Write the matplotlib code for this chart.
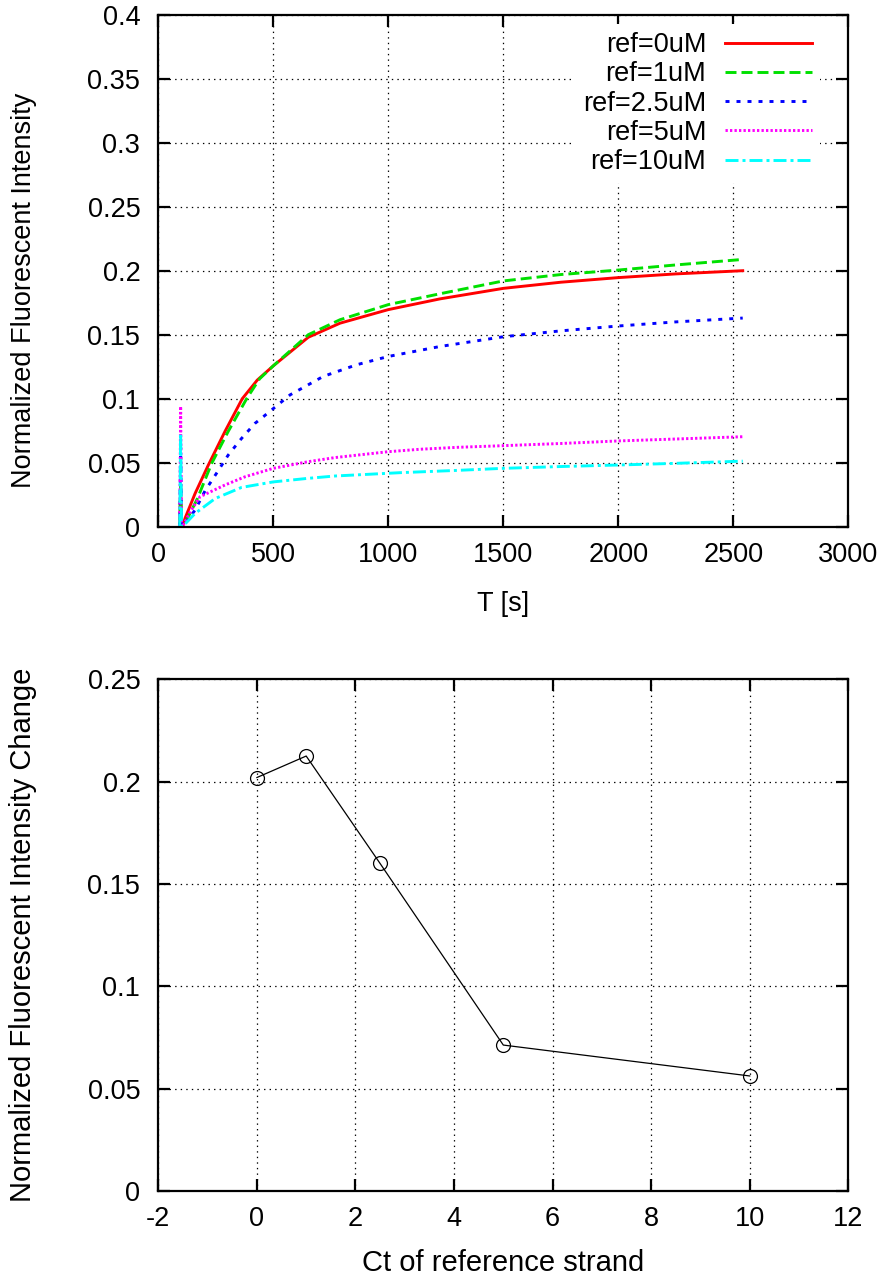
import matplotlib
matplotlib.use("Agg")
import matplotlib.pyplot as plt

plt.rcParams['font.family'] = ['Liberation Sans', 'DejaVu Sans']
plt.rcParams['lines.scale_dashes'] = False

# time traces (T in s, normalized intensity)
t_ref0 = [93, 97, 101, 105, 116, 160, 217, 290, 365, 430, 500, 652, 790, 1000, 1225, 1500, 1750, 2000, 2250, 2541]
v_ref0 = [0, 0.03, 0, 0, 0.0065, 0.026, 0.048, 0.0745, 0.1, 0.1145, 0.1257, 0.148, 0.159, 0.1696, 0.178, 0.1862, 0.191, 0.1946, 0.1975, 0.200]

t_ref1 = [93, 97, 101, 105, 120, 170, 232, 304, 384, 440, 500, 652, 790, 1000, 1225, 1500, 1750, 2000, 2250, 2541]
v_ref1 = [0, 0.035, 0, 0, 0.004, 0.022, 0.0495, 0.0745, 0.1, 0.1155, 0.1257, 0.150, 0.1617, 0.1735, 0.182, 0.192, 0.197, 0.2005, 0.2045, 0.2088]

t_ref25 = [93, 97, 101, 105, 160, 203, 254, 304, 362, 420, 457, 573, 717, 862, 1000, 1225, 1500, 1750, 2000, 2250, 2541]
v_ref25 = [0, 0.062, 0, 0, 0.013, 0.028, 0.042, 0.056, 0.069, 0.0807, 0.086, 0.103, 0.1174, 0.1265, 0.133, 0.1408, 0.1484, 0.153, 0.1568, 0.160, 0.163]

t_ref5 = [93, 97, 101, 105, 140, 181, 290, 377, 500, 652, 768, 1000, 1138, 1300, 1500, 1750, 2000, 2250, 2541]
v_ref5 = [0, 0.094, 0, 0, 0.012, 0.0234, 0.0326, 0.039, 0.0456, 0.0508, 0.054, 0.0586, 0.0605, 0.062, 0.0633, 0.065, 0.067, 0.0685, 0.0703]

t_ref10 = [93, 97, 101, 105, 160, 247, 362, 500, 652, 768, 1051, 1300, 1500, 1750, 2000, 2250, 2541]
v_ref10 = [0, 0.073, 0, 0, 0.0104, 0.022, 0.0307, 0.035, 0.0378, 0.0396, 0.0422, 0.044, 0.0456, 0.047, 0.0482, 0.0495, 0.0512]

labels = ["ref=0uM", "ref=1uM", "ref=2.5uM", "ref=5uM", "ref=10uM"]
colors = ["#ff0000", "#00e000", "#0000ff", "#ff00ff", "#00ffff"]

# summary: final change vs reference strand concentration
ct = [0, 1, 2.5, 5, 10]
change = [0.202, 0.2125, 0.160, 0.0713, 0.0562]

px = 1 / 1.389  # pixels -> points
styles = [
    dict(linestyle='-'),
    dict(linestyle=(0, (11 * px, 5 * px))),
    dict(linestyle=(0, (4 * px, 7 * px))),
    dict(linestyle=(0, (2.3 * px, 2.2 * px))),
    dict(linestyle=(0, (13 * px, 4 * px, 3 * px, 4 * px))),
]

fig = plt.figure(figsize=(8.92, 12.79), dpi=100)
ax1 = fig.add_axes([0.1775, 0.5882, 0.7735, 0.4003])
ax2 = fig.add_axes([0.1775, 0.0688, 0.7735, 0.4001])

FS = 19.5
FS2 = 21  # bottom panel axis titles are a bit larger


def style_axes(ax):
    for s in ax.spines.values():
        s.set_linewidth(1.6)
    ax.tick_params(direction='in', length=8.5, width=1.6, top=True, right=True,
                   labelsize=FS, pad=13)
    ax.tick_params(axis='x', pad=11)
    ax.grid(True, color='black', linestyle=(0, (1, 3)), linewidth=0.9)
    ax.set_axisbelow(True)


series = zip([t_ref0, t_ref1, t_ref25, t_ref5, t_ref10],
             [v_ref0, v_ref1, v_ref25, v_ref5, v_ref10])
for (t, v), lab, c, st in zip(series, labels, colors, styles):
    ax1.plot(t, v, color=c, linewidth=2.1, label=lab, **st)

ax1.set_xlim(0, 3000)
ax1.set_ylim(0, 0.4)
ax1.set_xticks(range(0, 3001, 500))
ax1.set_yticks([0, 0.05, 0.1, 0.15, 0.2, 0.25, 0.3, 0.35, 0.4])
ax1.set_yticklabels(["0", "0.05", "0.1", "0.15", "0.2", "0.25", "0.3", "0.35", "0.4"])
style_axes(ax1)
ax1.set_xlabel("T [s]", fontsize=FS)
ax1.set_ylabel("Normalized Fluorescent Intensity", fontsize=FS)
ax1.xaxis.set_label_coords(0.5, -0.125)
ax1.yaxis.set_label_coords(-0.176, 0.462)

leg = ax1.legend(loc='upper right', bbox_to_anchor=(0.959, 0.982), fontsize=FS,
                 markerfirst=False, handlelength=3.2, handletextpad=0.7,
                 labelspacing=0.12, borderpad=0.3, borderaxespad=0,
                 frameon=True, fancybox=False, framealpha=1)
leg.get_frame().set_edgecolor('none')
leg.get_frame().set_facecolor('white')

ax2.plot(ct, change, color='black', linewidth=0.9, marker='o', markersize=10,
         markerfacecolor='none', markeredgecolor='black', markeredgewidth=0.9)
ax2.set_xlim(-2, 12)
ax2.set_ylim(0, 0.25)
ax2.set_xticks(range(-2, 13, 2))
ax2.set_xticklabels(["-2", "0", "2", "4", "6", "8", "10", "12"])
ax2.set_yticks([0, 0.05, 0.1, 0.15, 0.2, 0.25])
ax2.set_yticklabels(["0", "0.05", "0.1", "0.15", "0.2", "0.25"])
style_axes(ax2)
ax2.set_xlabel("Ct of reference strand", fontsize=FS2)
ax2.set_ylabel("Normalized Fluorescent Intensity Change", fontsize=FS2)
ax2.xaxis.set_label_coords(0.5, -0.113)
ax2.yaxis.set_label_coords(-0.176, 0.5)

fig.savefig("out.png", dpi=100)
